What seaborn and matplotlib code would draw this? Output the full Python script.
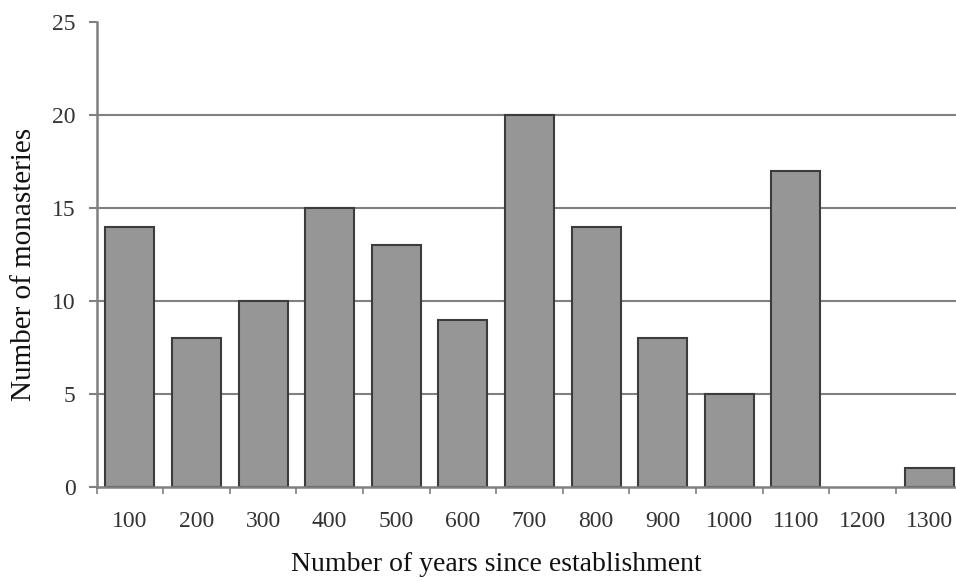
import numpy as np
import pandas as pd
import seaborn as sns
import matplotlib.pyplot as plt

# data
years = ['100', '200', '300', '400', '500', '600', '700', '800', '900', '1000', '1100', '1200', '1300']
counts = [14, 8, 10, 15, 13, 9, 20, 14, 8, 5, 17, 0, 1]

df = pd.DataFrame({'years': years, 'count': counts})

sns.set_style('white')
plt.rcParams['font.family'] = ['Liberation Serif', 'DejaVu Serif']

fig = plt.figure(figsize=(9.56, 5.81), dpi=100)
ax = fig.add_axes([96.5 / 956, 94 / 581, 866 / 956, 465 / 581])

# grid lines behind bars
for yv in [5, 10, 15, 20]:
    ax.axhline(yv, color='#808080', linewidth=1.5, zorder=0)

sns.barplot(data=df, x='years', y='count', order=years, color='#969696', saturation=1,
            width=0.735, edgecolor='#3c3c3c', linewidth=1.5, ax=ax, zorder=2)

# empty category should not show an outline
for p in ax.patches:
    if p.get_height() == 0:
        p.set_linewidth(0)

ax.set_xlim(-0.5, len(years) - 0.5)
ax.set_ylim(0, 25)
ax.set_yticks([0, 5, 10, 15, 20, 25])

# spines
for s in ['top', 'right']:
    ax.spines[s].set_visible(False)
for s in ['left', 'bottom']:
    ax.spines[s].set_color('#808080')
    ax.spines[s].set_linewidth(1.8)

# ticks: labels at centres, marks at category boundaries
ax.set_xticks(np.arange(-0.5, len(years)), minor=True)
ax.tick_params(axis='x', which='major', length=0, pad=17, labelsize=17, labelcolor='#333333')
ax.tick_params(axis='x', which='minor', direction='out', length=5, width=1.2, color='#808080', bottom=True)
ax.tick_params(axis='y', direction='out', length=6, width=1.5, color='#808080', left=True,
               pad=9, labelsize=17, labelcolor='#333333')

ax.set_xlabel('Number of years since establishment', fontsize=20, color='#111111')
ax.xaxis.set_label_coords(0.462, -0.140)
ax.set_ylabel('Number of monasteries', fontsize=21, color='#111111')
ax.yaxis.set_label_coords(-0.069, 0.478)

fig.savefig('out.png', dpi=100)
